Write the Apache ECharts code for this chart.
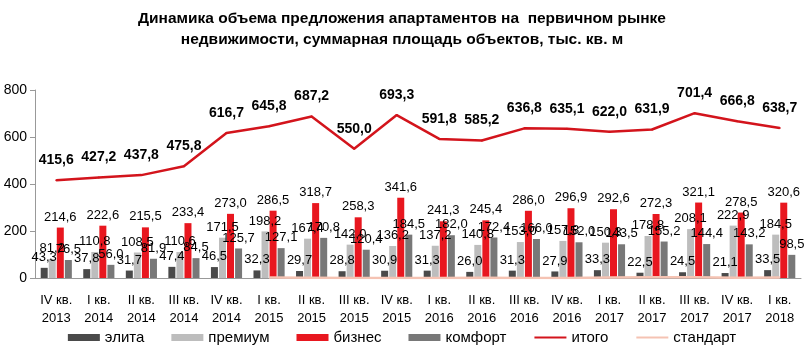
<!DOCTYPE html>
<html lang="ru">
<head>
    <meta charset="UTF-8">
    <title>Динамика объема предложения апартаментов</title>
    <script src="https://cdn.jsdelivr.net/npm/echarts@6.0.0/dist/echarts.min.js"></script>
    <style>
        body { padding: 0; margin: 0; background: #fff; }
        #chart { width: 804px; height: 351px; }
    </style>
</head>
<body>
    <div id="chart"></div>
    <script>
        const quarters = ['IV кв.\n2013', 'I кв.\n2014', 'II кв.\n2014', 'III кв.\n2014', 'IV кв.\n2014',
            'I кв.\n2015', 'II кв.\n2015', 'III кв.\n2015', 'IV кв.\n2015', 'I кв.\n2016', 'II кв.\n2016',
            'III кв.\n2016', 'IV кв.\n2016', 'I кв.\n2017', 'II кв.\n2017', 'III кв.\n2017', 'IV кв.\n2017', 'I кв.\n2018'];
        const elite = [43.3, 37.8, 31.7, 47.4, 46.5, 32.3, 29.7, 28.8, 30.9, 31.3, 26.0, 31.3, 27.9, 33.3, 22.5, 24.5, 21.1, 33.5];
        const premium = [81.2, 110.8, 108.5, 110.6, 171.5, 198.2, 167.4, 142.0, 136.2, 137.2, 140.8, 153.0, 157.8, 150.3, 178.8, 208.1, 222.9, 184.5];
        const business = [214.6, 222.6, 215.5, 233.4, 273.0, 286.5, 318.7, 258.3, 341.6, 241.3, 245.4, 286.0, 296.9, 292.6, 272.3, 321.1, 278.5, 320.6];
        const comfort = [76.5, 56.0, 81.9, 84.5, 125.7, 127.1, 170.8, 120.4, 184.5, 182.0, 172.4, 166.0, 152.0, 143.5, 155.2, 144.4, 143.2, 98.5];
        const total = [415.6, 427.2, 437.8, 475.8, 616.7, 645.8, 687.2, 550.0, 693.3, 591.8, 585.2, 636.8, 635.1, 622.0, 631.9, 701.4, 666.8, 638.7];
        const standard = [null, null, null, null, null, 1.7, 1.4, 0.5, 0.1, 0.2, 0.6, 0.5, 0.5, 2.3, 3.1, 3.3, 1.1, 1.6];

        const fmt = p => p.value.toFixed(1).replace('.', ',');
        const font = 'Liberation Sans, Arial, sans-serif';

        function barSeries(name, data, color) {
            return {
                name: name, type: 'bar', data: data, barWidth: 7, barGap: '15%',
                itemStyle: { color: color },
                label: { show: true, position: 'top', distance: 4, formatter: fmt, color: '#000', fontSize: 13, fontFamily: font }
            };
        }

        const chart = echarts.init(document.getElementById('chart'));
        chart.setOption({
            animation: false,
            title: {
                text: 'Динамика объема предложения апартаментов на  первичном рынке\nнедвижимости, суммарная площадь объектов, тыс. кв. м',
                left: 'center', top: 3,
                textStyle: { fontSize: 15.5, fontWeight: 'bold', fontFamily: font, lineHeight: 21, color: '#000' }
            },
            legend: {
                bottom: 1, left: 'center', itemWidth: 32, itemHeight: 7, itemGap: 27,
                textStyle: { fontSize: 15, fontFamily: font, color: '#000' },
                data: [
                    { name: 'элита', icon: 'rect' }, { name: 'премиум', icon: 'rect' },
                    { name: 'бизнес', icon: 'rect' }, { name: 'комфорт', icon: 'rect' },
                    { name: 'итого', itemStyle: { opacity: 0 } }, { name: 'стандарт', itemStyle: { opacity: 0 } }
                ]
            },
            grid: { left: 35, right: 3, top: 90, bottom: 73 },
            xAxis: {
                type: 'category', data: quarters,
                axisLine: { lineStyle: { color: '#999' } },
                axisTick: { lineStyle: { color: '#999' } },
                axisLabel: { color: '#000', fontSize: 13, fontFamily: font, lineHeight: 18, interval: 0, margin: 13 }
            },
            yAxis: {
                type: 'value', min: 0, max: 800, interval: 200,
                splitLine: { show: false },
                axisLine: { show: true, lineStyle: { color: '#999' } },
                axisTick: { show: true, lineStyle: { color: '#999' } },
                axisLabel: { color: '#000', fontSize: 14, fontFamily: font }
            },
            series: [
                barSeries('элита', elite, '#4a4a4a'),
                barSeries('премиум', premium, '#bdbdbd'),
                barSeries('бизнес', business, '#e8171f'),
                barSeries('комфорт', comfort, '#787878'),
                {
                    name: 'итого', type: 'line', data: total, symbol: 'circle', symbolSize: 2,
                    lineStyle: { color: '#d3141c', width: 2.5 }, itemStyle: { color: '#d3141c' },
                    label: { show: true, position: 'top', distance: 12, formatter: fmt, color: '#000', fontSize: 14, fontWeight: 'bold', fontFamily: font }
                },
                {
                    name: 'стандарт', type: 'line', data: standard, symbol: 'none',
                    lineStyle: { color: '#f5c3b3', width: 2.5 }, itemStyle: { color: '#f5c3b3' }
                }
            ]
        });
    </script>
</body>
</html>
